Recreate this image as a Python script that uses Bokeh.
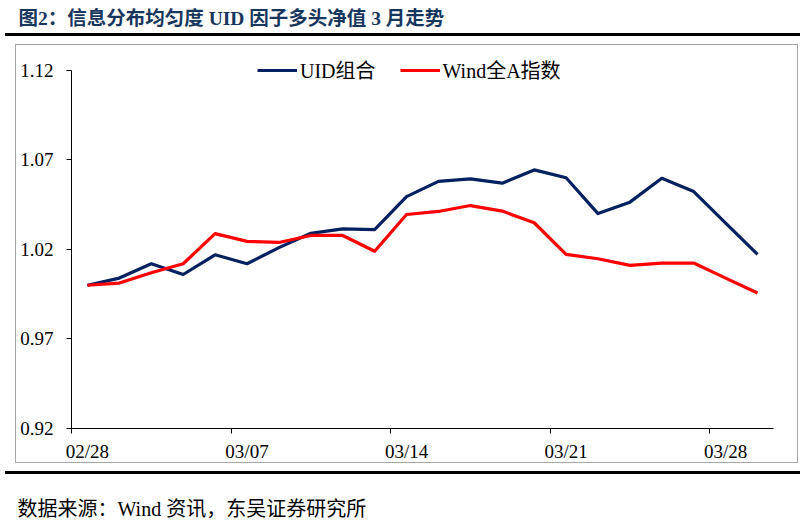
from bokeh.plotting import figure
from bokeh.models import (Range1d, FixedTicker, NumeralTickFormatter, Title,
                          Legend, LegendItem)
from bokeh.embed import file_html
from bokeh.resources import INLINE

# ---- data ----
dates = ["02/28", "03/01", "03/02", "03/03", "03/04",
         "03/07", "03/08", "03/09", "03/10", "03/11",
         "03/14", "03/15", "03/16", "03/17", "03/18",
         "03/21", "03/22", "03/23", "03/24", "03/25",
         "03/28", "03/29"]
uid = [1.000, 1.004, 1.012, 1.006, 1.017,
       1.012, 1.021, 1.029, 1.0315, 1.031,
       1.0495, 1.058, 1.0594, 1.057, 1.0644,
       1.060, 1.040, 1.0464, 1.0597, 1.0523,
       1.0347, 1.0172]
wind = [1.000, 1.0012, 1.007, 1.012, 1.0288,
        1.0245, 1.0239, 1.0278, 1.0278, 1.019,
        1.0395, 1.0412, 1.0445, 1.0414, 1.0349,
        1.0172, 1.0148, 1.0111, 1.0124, 1.0124,
        1.004, 0.9957]
y_ticks = [0.92, 0.97, 1.02, 1.07, 1.12]
label_step = 5
series_names = ["UID组合", "Wind全A指数"]
title_text = "图2：信息分布均匀度 UID 因子多头净值 3 月走势"
source_text = "数据来源：Wind 资讯，东吴证券研究所"

FONT = "'Liberation Serif', 'Noto Sans CJK SC'"
W, H = 802, 521

# decorative rules and chart box, drawn as CSS backgrounds behind the transparent canvas
BLACK = "linear-gradient(#000,#000)"
GRAY = "linear-gradient(#A6A6A6,#A6A6A6)"
deco = {
    "background-image": ", ".join([BLACK, BLACK, GRAY, GRAY, GRAY, GRAY]),
    "background-repeat": "no-repeat",
    "background-position": "5px 33px, 5px 471px, 15px 44px, 797px 44px, 15px 44px, 15px 462px",
    "background-size": "795px 3px, 795px 3px, 1px 419px, 1px 419px, 783px 1px, 783px 1px",
}

n = len(dates)
xs = list(range(n))
y_top = y_ticks[-1] + 0.0189  # frame extends above the top tick; the axis line stops at 1.12

p = figure(width=W, height=H, x_range=Range1d(-0.5, n - 0.5),
           y_range=Range1d(y_ticks[0], y_top), output_backend="svg",
           toolbar_location=None, min_border_left=71, min_border_right=29,
           min_border_top=36, min_border_bottom=91, outline_line_color=None,
           border_fill_color=None, background_fill_color=None, styles=deco)
p.xgrid.visible = False
p.ygrid.visible = False

p.title.text = title_text
p.title.align = "left"
p.title.vertical_align = "top"
p.title.offset = -53
p.title.standoff = 12
p.title.text_font = FONT
p.title.text_font_size = "19.5px"
p.title.text_font_style = "bold"
p.title.text_color = "#17365D"

spacer = Title(text=" ", standoff=26, text_font_size="1px")
p.add_layout(spacer, "below")
src = Title(text=source_text, align="left", vertical_align="bottom", offset=-54,
            standoff=4, text_font=FONT, text_font_size="20px",
            text_font_style="normal", text_color="black")
p.add_layout(src, "below")

r1 = p.line(xs, uid, line_color="#002060", line_width=3.2, line_join="round")
r2 = p.line(xs, wind, line_color="#FF0000", line_width=3.2, line_join="round")

legend = Legend(items=[LegendItem(label=series_names[0], renderers=[r1]),
                       LegendItem(label=series_names[1], renderers=[r2])],
                orientation="horizontal", location=(186, 344), glyph_width=40,
                glyph_height=16, label_height=16, label_standoff=3, spacing=24,
                padding=0, margin=0, border_line_color=None, background_fill_alpha=0,
                label_text_font=FONT, label_text_font_size="20px",
                label_text_color="black")
p.add_layout(legend)

label_pos = xs[::label_step]
p.xaxis.ticker = FixedTicker(ticks=label_pos, minor_ticks=[i - 0.5 for i in label_pos])
p.xaxis.major_label_overrides = {i: dates[i] for i in label_pos}
p.xaxis.major_tick_line_color = None
p.xaxis.major_tick_out = 5
p.xaxis.major_tick_in = 0
p.xaxis.minor_tick_line_color = "black"
p.xaxis.minor_tick_out = 5
p.xaxis.minor_tick_in = 0
p.xaxis.axis_line_color = "black"
p.xaxis.major_label_standoff = 7

p.yaxis.ticker = FixedTicker(ticks=y_ticks)
p.yaxis.bounds = (y_ticks[0], y_ticks[-1])
p.yaxis.formatter = NumeralTickFormatter(format="0.00")
p.yaxis.major_tick_out = 5
p.yaxis.major_tick_in = 0
p.yaxis.minor_tick_line_color = None
p.yaxis.major_tick_line_color = "black"
p.yaxis.axis_line_color = "black"
p.yaxis.major_label_standoff = 13

for ax in (p.xaxis, p.yaxis):
    ax.major_label_text_font = FONT
    ax.major_label_text_font_size = "19px"
    ax.major_label_text_color = "black"

open("out.html", "w").write(file_html(p, INLINE))
